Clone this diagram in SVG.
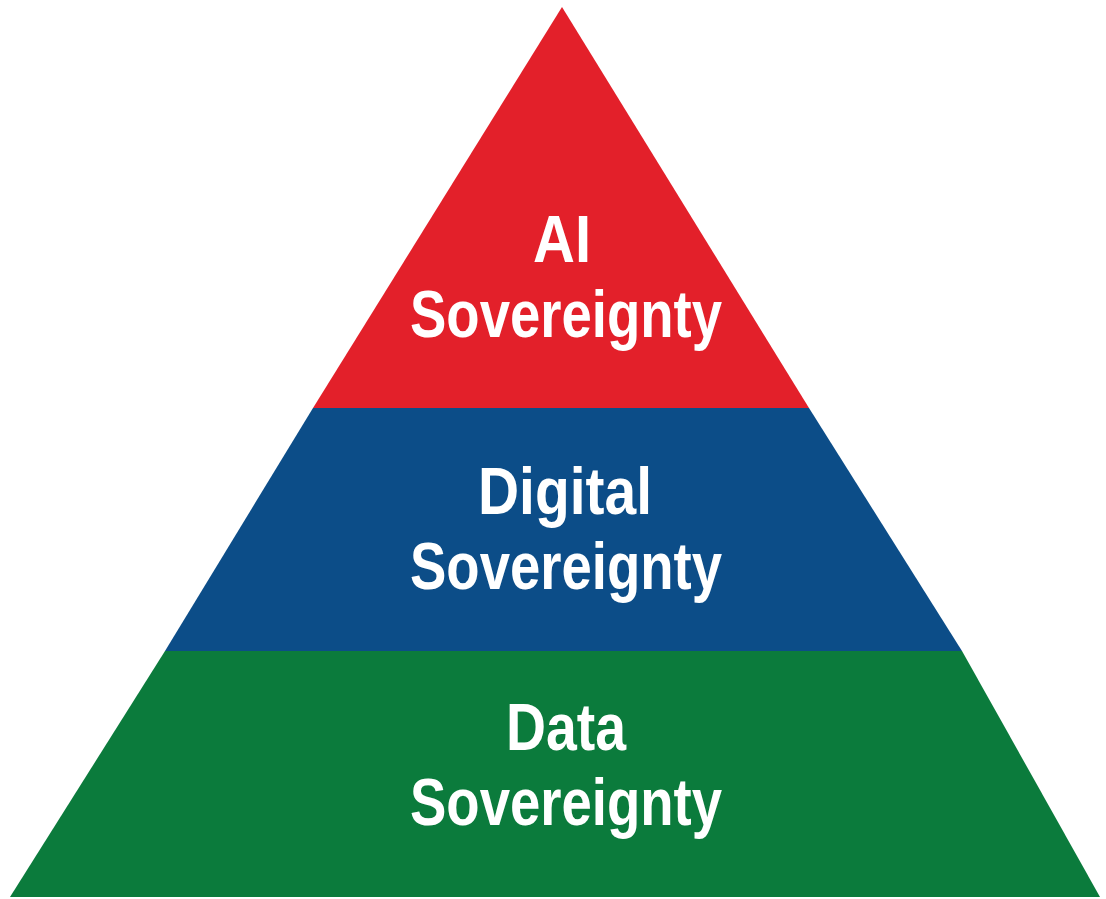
<svg xmlns="http://www.w3.org/2000/svg" width="1106" height="899" viewBox="0 0 1106 899">
  <style>
    .lbl { font-family: "Liberation Sans", Arial, sans-serif; font-weight: bold; font-size: 66px; fill: #ffffff; text-anchor: middle; }
  </style>
  <rect x="0" y="0" width="1106" height="899" fill="#ffffff"/>
  <g id="layer-ai">
    <polygon points="562,7 313,408 809,408" fill="#E3202A"/>
    <text class="lbl"><tspan x="562" y="262" textLength="58" lengthAdjust="spacingAndGlyphs">AI</tspan><tspan x="566" y="337" textLength="312" lengthAdjust="spacingAndGlyphs">Sovereignty</tspan></text>
  </g>
  <g id="layer-digital">
    <polygon points="313,408 809,408 962,651 165,651" fill="#0C4D88"/>
    <text class="lbl"><tspan x="565" y="514" textLength="174" lengthAdjust="spacingAndGlyphs">Digital</tspan><tspan x="566" y="589" textLength="312" lengthAdjust="spacingAndGlyphs">Sovereignty</tspan></text>
  </g>
  <g id="layer-data">
    <polygon points="165,651 962,651 1100,897 10,897" fill="#0B7B3C"/>
    <text class="lbl"><tspan x="566" y="750" textLength="120" lengthAdjust="spacingAndGlyphs">Data</tspan><tspan x="566" y="825" textLength="312" lengthAdjust="spacingAndGlyphs">Sovereignty</tspan></text>
  </g>
  <g id="connectors"/>
</svg>
